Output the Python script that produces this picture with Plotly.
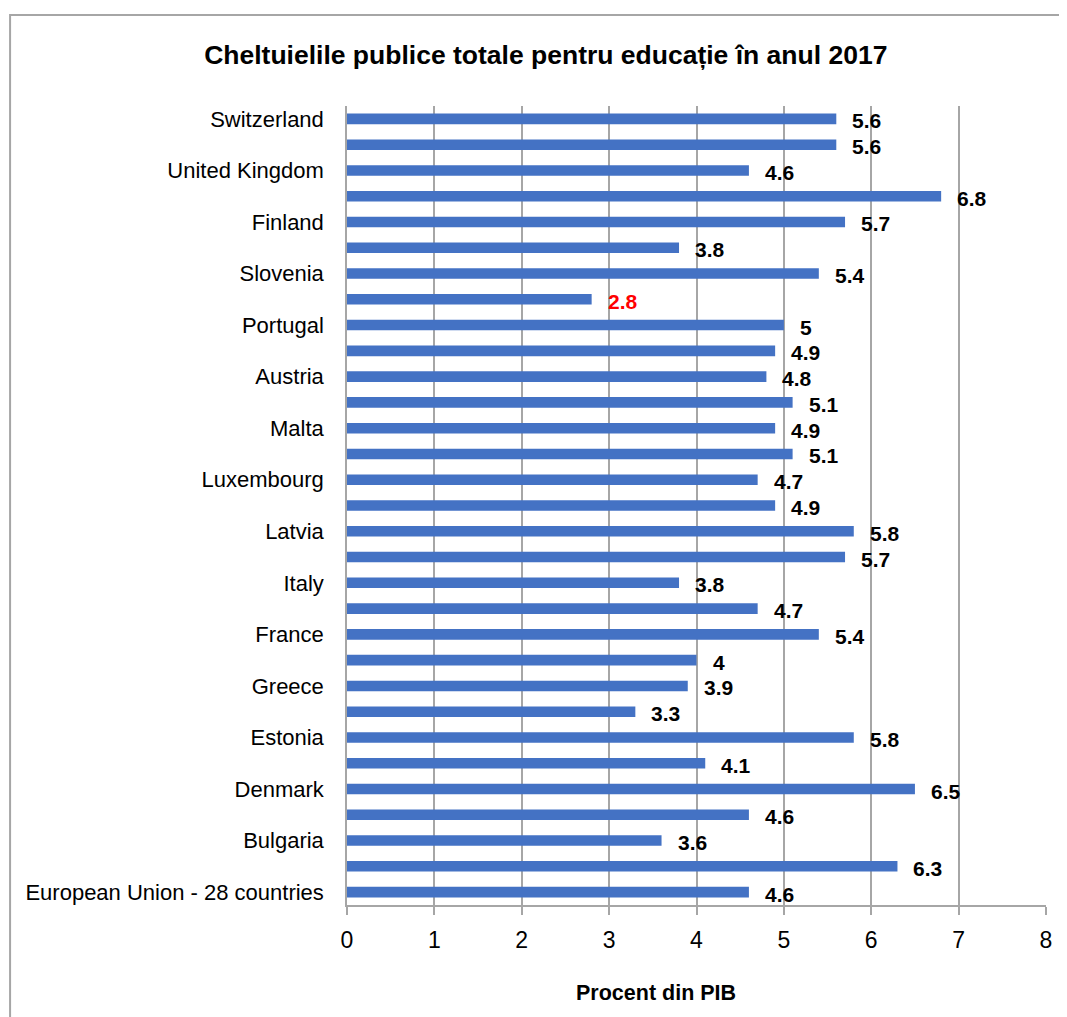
import plotly.graph_objects as go

categories = [
    "European Union - 28 countries", "Belgium", "Bulgaria", "Czechia", "Denmark",
    "Germany", "Estonia", "Ireland", "Greece", "Spain", "France", "Croatia",
    "Italy", "Cyprus", "Latvia", "Lithuania", "Luxembourg", "Hungary", "Malta",
    "Netherlands", "Austria", "Poland", "Portugal", "Romania", "Slovenia",
    "Slovakia", "Finland", "Sweden", "United Kingdom", "Norway", "Switzerland",
]
values = [
    4.6, 6.3, 3.6, 4.6, 6.5, 4.1, 5.8, 3.3, 3.9, 4.0, 5.4, 4.7, 3.8, 5.7, 5.8,
    4.9, 4.7, 5.1, 4.9, 5.1, 4.8, 4.9, 5.0, 2.8, 5.4, 3.8, 5.7, 6.8, 4.6, 5.6, 5.6,
]
highlight = "Romania"
shown_labels = categories[::2]
x_ticks = [0, 1, 2, 3, 4, 5, 6, 7, 8]

title_text = "Cheltuielile publice totale pentru educație în anul 2017"
x_title = "Procent din PIB"

FONT = "Liberation Sans, Arial, sans-serif"
GRID = "#A6A6A6"

fig = go.Figure()
fig.add_trace(go.Bar(
    x=values, y=categories, orientation="h",
    marker=dict(color="#4472C4", line=dict(width=0)),
    width=0.41, hoverinfo="x+y",
))

for c, v in zip(categories, values):
    fig.add_annotation(
        x=v, y=c, xref="x", yref="y", text=f"<b>{v:g}</b>", showarrow=False,
        xanchor="left", yanchor="middle", xshift=14, yshift=-2,
        font=dict(family=FONT, size=21, color="#FF0000" if c == highlight else "#000000"),
    )

fig.add_annotation(
    x=0.442, y=-0.110, xref="paper", yref="paper", text=f"<b>{x_title}</b>",
    showarrow=False, xanchor="center", yanchor="middle",
    font=dict(family=FONT, size=21.5, color="#000000"),
)

fig.add_shape(
    type="rect", xref="paper", yref="paper",
    x0=-0.482, x1=1.05, y0=-0.2, y1=1.114,
    line=dict(color="#A6A6A6", width=2), fillcolor="rgba(0,0,0,0)", layer="below",
)

fig.update_layout(
    width=1067, height=1017,
    margin=dict(l=339, r=29, t=98, b=120, autoexpand=False),
    paper_bgcolor="white", plot_bgcolor="white",
    showlegend=False, bargap=0.6,
    font=dict(family=FONT, color="#000000"),
    title=dict(
        text=f"<b>{title_text}</b>", x=0.504, xanchor="center",
        y=1 - 47 / 1017, yanchor="middle", yref="container",
        font=dict(family=FONT, size=26.5, color="#000000"),
    ),
    xaxis=dict(
        range=[0, 8], tickvals=x_ticks, showgrid=True, gridcolor=GRID, gridwidth=1.5,
        zeroline=False, showline=True, linecolor=GRID, linewidth=1.5,
        ticks="outside", ticklen=8, tickcolor=GRID, tickwidth=1.5,
        ticklabelstandoff=6,
        tickfont=dict(family=FONT, size=23, color="#000000"),
        fixedrange=True, automargin=False,
    ),
    yaxis=dict(
        type="category", categoryorder="array", categoryarray=categories,
        tickvals=shown_labels, ticktext=shown_labels,
        showgrid=False, zeroline=False, showline=True, linecolor=GRID, linewidth=1.5,
        ticks="", ticklabelstandoff=17,
        tickfont=dict(family=FONT, size=22, color="#000000"),
        range=[-0.5, len(categories) - 0.5], fixedrange=True, automargin=False,
    ),
)

fig.write_html("out.html")
